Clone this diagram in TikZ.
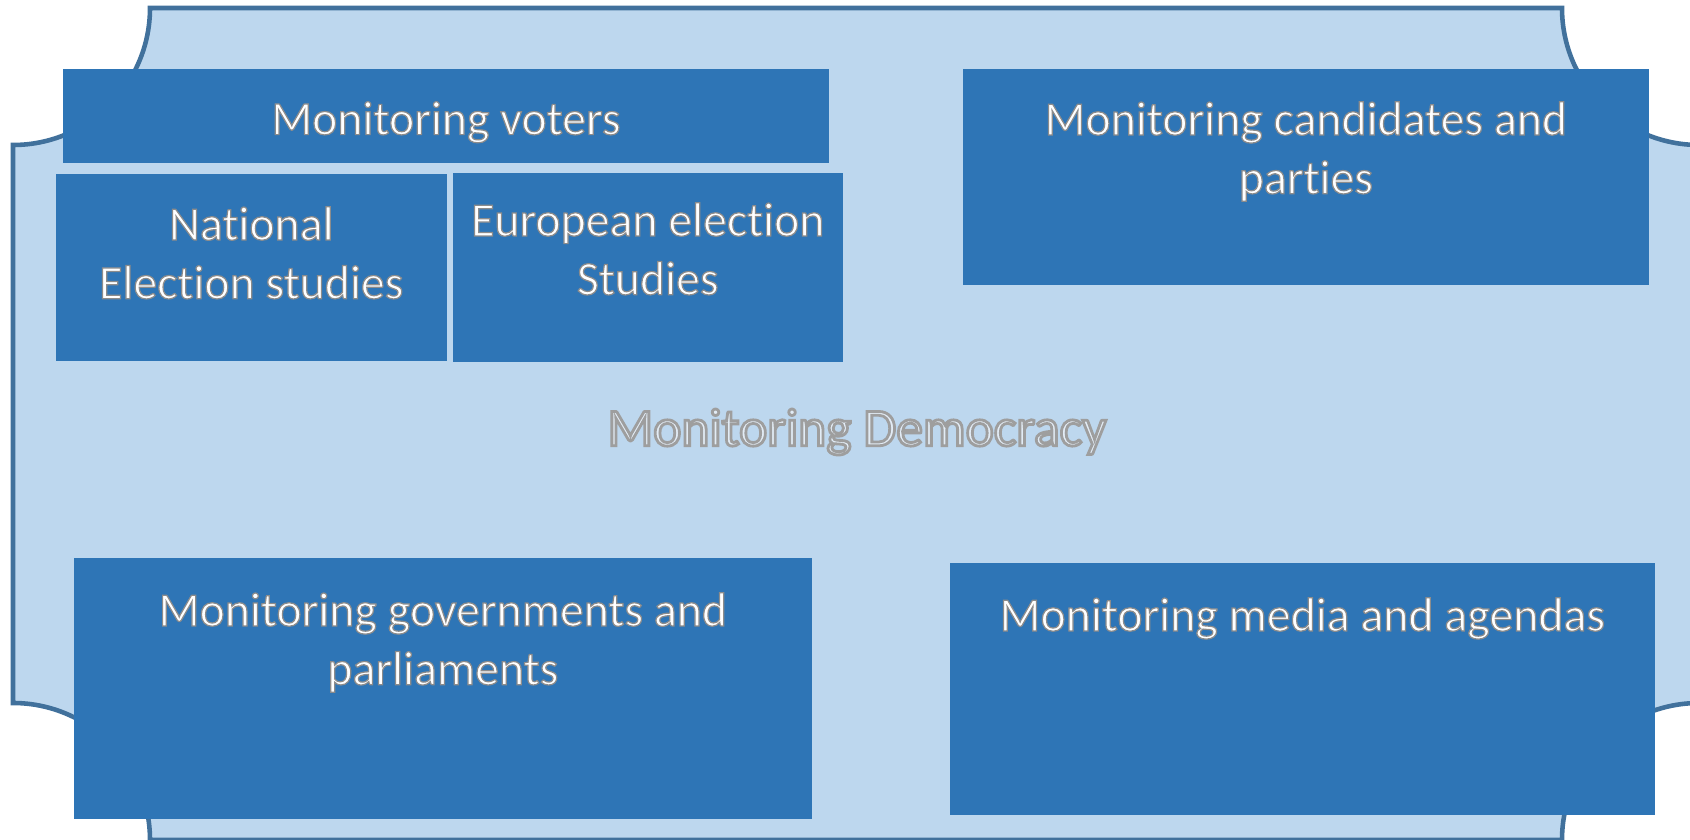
\documentclass[tikz,border=0pt]{standalone}
\usepackage{fontspec}
\setmainfont{Carlito}[RawFeature=-liga]
\definecolor{plaquefill}{HTML}{BDD7EE}
\definecolor{plaqueline}{HTML}{41719C}
\definecolor{boxblue}{HTML}{2E75B6}
\definecolor{titlefill}{HTML}{E2ECF6}
\newcommand{\rimtext}{\special{pdf:literal direct 2 Tr 0.35 w 0.55 G}}
\newcommand{\titlerim}{\special{pdf:literal direct 2 Tr 0.8 w 0.62 G}}
\tikzset{
  panel/.style={fill=boxblue,anchor=north west,inner sep=0pt},
  paneltext/.style={text=white,align=center,anchor=north,inner sep=0pt,font=\fontsize{13.6}{16.7}\selectfont},
}

\begin{document}
\begin{tikzpicture}[x=0.01cm,y=-0.01cm]
        \useasboundingbox (0,0) rectangle (1690,840);
        % plaque
        \draw[fill=plaquefill,draw=plaqueline,line width=1.3pt](150,8)--(1562,8)arc[start angle=180,end angle=90,radius=137]
            --(1699,703)arc[start angle=270,end angle=180,radius=137]
            --(150,840)arc[start angle=0,end angle=-90,radius=137]
            --(13,145)arc[start angle=90,end angle=0,radius=137]--cycle;
        \node[font=\fontsize{15.2}{18}\selectfont,text=titlefill](title)at(857,432){\titlerim Monitoring Democracy};
        % boxes
        \node[panel,minimum width=7.66cm,minimum height=0.94cm](voters)at(62,68){};
        \node[panel,minimum width=3.91cm,minimum height=1.87cm](national)at(55,173){};
        \node[panel,minimum width=3.90cm,minimum height=1.89cm](european)at(452,172){};
        \node[panel,minimum width=6.86cm,minimum height=2.16cm](candidates)at(962,68){};
        \node[panel,minimum width=7.38cm,minimum height=2.61cm](governments)at(73,557){};
        \node[panel,minimum width=7.05cm,minimum height=2.52cm](media)at(949,562){};
        \node[paneltext](votersText)at([yshift=-0.33cm]voters.north){\rimtext Monitoring voters};
        \node[paneltext](nationalText)at([yshift=-0.33cm]national.north){\rimtext National\\Election studies};
        \node[paneltext](europeanText)at([yshift=-0.30cm]european.north){\rimtext European election\\Studies};
        \node[paneltext](candidatesText)at([yshift=-0.33cm]candidates.north){\rimtext Monitoring candidates and\\parties};
        \node[paneltext](governmentsText)at([yshift=-0.35cm]governments.north){\rimtext Monitoring governments and\\parliaments};
        \node[paneltext](mediaText)at([yshift=-0.35cm]media.north){\rimtext Monitoring media and agendas};
    \end{tikzpicture}
\end{document}
